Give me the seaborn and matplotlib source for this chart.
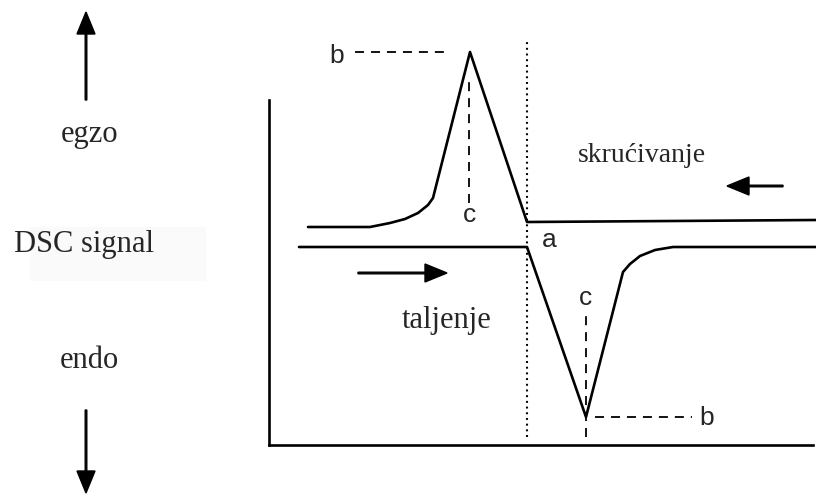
import pandas as pd
import matplotlib.pyplot as plt
import seaborn as sns
from matplotlib.patches import Rectangle

# schematic DSC curves (x = temperature, y = signal, exo up)
cool_x = [308, 370, 380, 390, 405, 418, 428, 433, 470, 527, 816]
cool_y = [270, 270, 272, 274, 278, 284, 292, 299, 445, 275, 277]
heat_x = [299, 527, 586, 623, 630, 640, 655, 673, 816]
heat_y = [250, 250, 80, 225, 233, 241, 247, 250, 250]

# characteristic points
onset_x = 527
peak_cool = (470, 445)
peak_heat = (586, 80)

sns.set_theme(style='white')
plt.rcParams['font.family'] = ['Liberation Serif', 'DejaVu Serif']
plt.rcParams['lines.scale_dashes'] = False

fig = plt.figure(figsize=(8.16, 4.97), dpi=100)
ax = fig.add_axes([0, 0, 1, 1])
ax.set_xlim(0, 816)
ax.set_ylim(0, 497)

curves = pd.concat([
    pd.DataFrame({'T': cool_x, 'S': cool_y, 'run': 'skrucivanje'}),
    pd.DataFrame({'T': heat_x, 'S': heat_y, 'run': 'taljenje'}),
])
sns.lineplot(data=curves, x='T', y='S', units='run', estimator=None, sort=False,
             color='black', lw=1.9, ax=ax, legend=False)

# frame (only left and bottom)
for s in ['top', 'right']:
    ax.spines[s].set_visible(False)
ax.spines['left'].set_position(('data', 269))
ax.spines['left'].set_bounds(52, 397)
ax.spines['bottom'].set_position(('data', 52))
ax.spines['bottom'].set_bounds(269, 813)
for s in ['left', 'bottom']:
    ax.spines[s].set_color('black')
    ax.spines[s].set_linewidth(1.9)
ax.set_xticks([])
ax.set_yticks([])
ax.set_xlabel('')
ax.set_ylabel('')

# guide lines
dash = (0, (6.5, 5))
ax.plot([onset_x, onset_x], [60, 456], color='black', lw=1.5, ls=(0, (1.4, 2.7)))
ax.plot([355, peak_cool[0] - 20], [peak_cool[1], peak_cool[1]], color='black', lw=1.3, ls=dash)
ax.plot([peak_cool[0] - 1, peak_cool[0] - 1], [294, 419], color='black', lw=1.3, ls=dash)
ax.plot([peak_heat[0], peak_heat[0]], [60, 184], color='black', lw=1.3, ls=dash)
ax.plot([peak_heat[0] + 9, 692], [peak_heat[1], peak_heat[1]], color='black', lw=1.3, ls=dash)

# point labels
sans = dict(family=['Liberation Sans', 'DejaVu Sans'], fontsize=19, ha='center', va='baseline')
ax.text(337, 434, 'b', **sans)
ax.text(469, 275, 'c', **sans)
ax.text(549, 250, 'a', **sans)
ax.text(586, 192, 'c', **sans)
ax.text(707, 72, 'b', **sans)

# side labels
ax.add_patch(Rectangle((30, 217), 175, 53, color='#fafafa', zorder=0))
serif = dict(fontsize=22, ha='center', va='baseline')
ax.text(90, 355, 'egzo', **serif)
ax.text(84, 245, 'DSC signal', **serif)
ax.text(89, 129, 'endo', **serif)
ax.text(642, 335, 'skrućivanje', fontsize=20, ha='center', va='baseline')
ax.text(447, 169, 'taljenje', **serif)

# arrows
arr = dict(width=1.6, head_width=18, head_length=22, length_includes_head=True,
           color='black')
ax.arrow(86, 397, 0, 88, **arr)
ax.arrow(86, 87, 0, -83, **arr)
ax.arrow(358, 224, 89, 0, **arr)
ax.arrow(783, 311, -56, 0, **arr)

plt.savefig('out.png', dpi=100)
plt.close()
